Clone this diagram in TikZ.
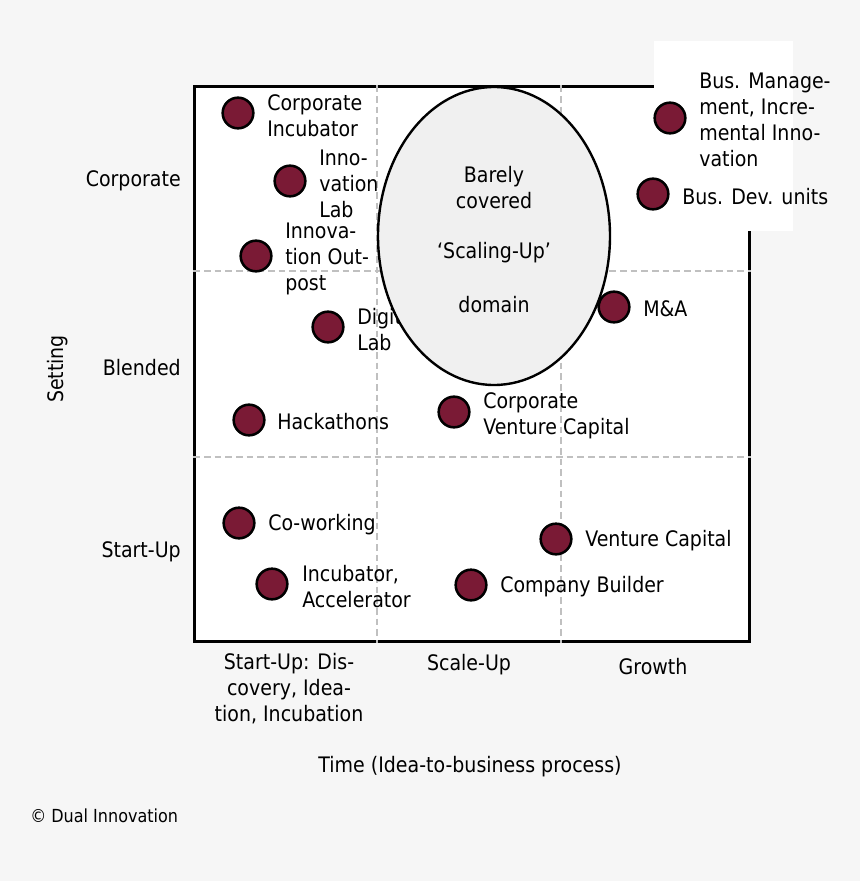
\documentclass[tikz,border=0pt]{standalone}
\usepackage{fontspec}
\setmainfont{DejaVu Sans}[FakeStretch=0.89]
\definecolor{bg}{HTML}{F6F6F6}
\definecolor{dotred}{HTML}{7A1A35}
\definecolor{ellfill}{HTML}{F0F0F0}
\definecolor{dashgray}{HTML}{C0C0C0}
\tikzset{
  dot/.style={circle,draw=black,fill=dotred,line width=1.9pt,minimum size=23pt,inner sep=0pt},
  lbl/.style={anchor=west,align=left,inner sep=0pt,yshift=-1.5pt,font=\fontsize{16}{19.5}\selectfont},
  ctr/.style={anchor=center,align=center,inner sep=0pt,yshift=-1.5pt,font=\fontsize{16}{19.5}\selectfont},
  rlbl/.style={anchor=east,inner sep=0pt,yshift=-1.5pt,font=\fontsize{16}{19.5}\selectfont},
  grid/.style={draw=dashgray,line width=1.6pt,dash pattern=on 5pt off 3pt},
}
\begin{document}
\begin{tikzpicture}[x=0.75pt,y=-0.75pt]
\fill[bg] (0,0) rectangle (860,881);
\useasboundingbox (0,0) rectangle (860,881);
% frame
\node[draw=black,fill=white,line width=1.9pt,minimum width=416pt,minimum height=416pt,inner sep=0pt] (frame) at (472,364) {};
% grid
\draw[grid] (frame.north west -| 377,0) -- (frame.south west -| 377,0);
\draw[grid] (frame.north west -| 561,0) -- (frame.south west -| 561,0);
\draw[grid] (frame.west |- 0,271) -- (frame.east |- 0,271);
\draw[grid] (frame.west |- 0,457) -- (frame.east |- 0,457);
% white box top right
\fill[white] (654,41) rectangle (793,231);
% labels hidden partly behind ellipse
\node[dot] (dlab) at (328,327) {};
\node[lbl] (dlabt) at (357,328) {Digital\\Lab};
% ellipse
\draw[fill=ellfill,line width=1.8pt] (494,236) ellipse [x radius=116, y radius=149];
\node[coordinate] (ell) at (494,236) {};
\node[ctr] (t1) at (494,186) {Barely\\covered};
\node[ctr] (t2) at (494,251) {‘Scaling-Up’};
\node[ctr] (t3) at (494,303) {domain};
% dots and labels
\node[dot] (ci) at (238,113) {};
\node[lbl] (cit) at (267,114) {Corporate\\Incubator};
\node[dot] (il) at (290,181) {};
\node[lbl] (ilt) at (319,182) {Inno-\\vation\\Lab};
\node[dot] (io) at (256,256) {};
\node[lbl] (iot) at (285,257) {Innova-\\tion Out-\\post};
\node[dot] (hk) at (249,420) {};
\node[lbl] (hkt) at (277,420) {Hackathons};
\node[dot] (cvc) at (454,412) {};
\node[lbl] (cvct) at (483,414) {Corporate\\Venture Capital};
\node[dot] (ma) at (614,307) {};
\node[lbl] (mat) at (643,307) {M\&A};
\node[dot] (bm) at (670,118) {};
\node[lbl] (bmt) at (699,118) {Bus. Manage-\\ment, Incre-\\mental Inno-\\vation};
\node[dot] (bd) at (653,194) {};
\node[lbl] (bdt) at (682,195) {Bus. Dev. units};
\node[dot] (cw) at (239,523) {};
\node[lbl] (cwt) at (268,523) {Co-working};
\node[dot] (ia) at (272,584) {};
\node[lbl] (iat) at (302,585) {Incubator,\\Accelerator};
\node[dot] (cb) at (471,585) {};
\node[lbl] (cbt) at (500,585) {Company Builder};
\node[dot] (vc) at (556,539) {};
\node[lbl] (vct) at (585,539) {Venture Capital};
% axis labels
\node[rlbl] (yc) at (181,179) {Corporate};
\node[rlbl] (yb) at (181,366) {Blended};
\node[rlbl] (ys) at (181,550) {Start-Up};
\node[ctr,rotate=90,yshift=1.5pt,xshift=-1.5pt] (ylab) at (60,365) {Setting};
\node[ctr] (xs) at (289,687) {Start-Up: Dis-\\covery, Idea-\\tion, Incubation};
\node[ctr] (xsu) at (469,663) {Scale-Up};
\node[ctr] (xg) at (653,665) {Growth};
\node[ctr] (xlab) at (470,765) {Time (Idea-to-business process)};
\node[lbl] (copy) at (30,814) {\fontsize{13.5}{16}\selectfont © Dual Innovation};
\end{tikzpicture}
\end{document}
